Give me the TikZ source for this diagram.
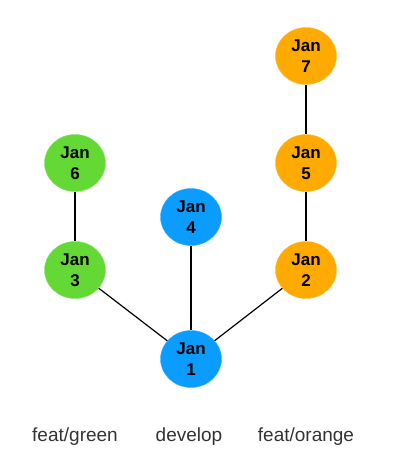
\documentclass[tikz,border=0pt]{standalone}
\usepackage{fontspec}
\setmainfont{Liberation Sans}
\usetikzlibrary{shapes.geometric}
\definecolor{cblue}{HTML}{0A9CFF}
\definecolor{cgreen}{HTML}{64D936}
\definecolor{corange}{HTML}{FFAA00}
\definecolor{labelgray}{HTML}{333333}
\tikzset{
  commit/.style={ellipse, minimum width=61pt, minimum height=57pt, inner sep=0pt,
    align=center, font=\fontsize{17}{21.5}\selectfont\bfseries, text=black},
  bluecommit/.style={commit, fill=cblue, draw=cblue!80!white},
  greencommit/.style={commit, fill=cgreen, draw=cgreen!80!white},
  orangecommit/.style={commit, fill=corange, draw=corange!80!white},
  link/.style={draw=black, line width=1.2pt},
  branch/.style={font=\fontsize{19}{22}\selectfont, text=labelgray, anchor=base}
}
\begin{document}
\begin{tikzpicture}[x=1pt, y=-1pt]
\useasboundingbox (0,0) rectangle (400,475);
\node[orangecommit] (j7) at (306,56) {Jan\\7};
\node[orangecommit] (j5) at (306,163) {Jan\\5};
\node[orangecommit] (j2) at (306,270) {Jan\\2};
\node[greencommit] (j6) at (75,163) {Jan\\6};
\node[greencommit] (j3) at (75,270) {Jan\\3};
\node[bluecommit] (j4) at (191,217) {Jan\\4};
\node[bluecommit] (j1) at (191,359) {Jan\\1};
\draw[link] (j7) -- (j5);
\draw[link] (j5) -- (j2);
\draw[link] (j6) -- (j3);
\draw[link] (j4) -- (j1);
\draw[link] (j3) -- (j1);
\draw[link] (j2) -- (j1);
\node[branch] (lg) at (75,441) {feat/green};
\node[branch] (ld) at (189,441) {develop};
\node[branch] (lo) at (306,441) {feat/orange};
\end{tikzpicture}
\end{document}
